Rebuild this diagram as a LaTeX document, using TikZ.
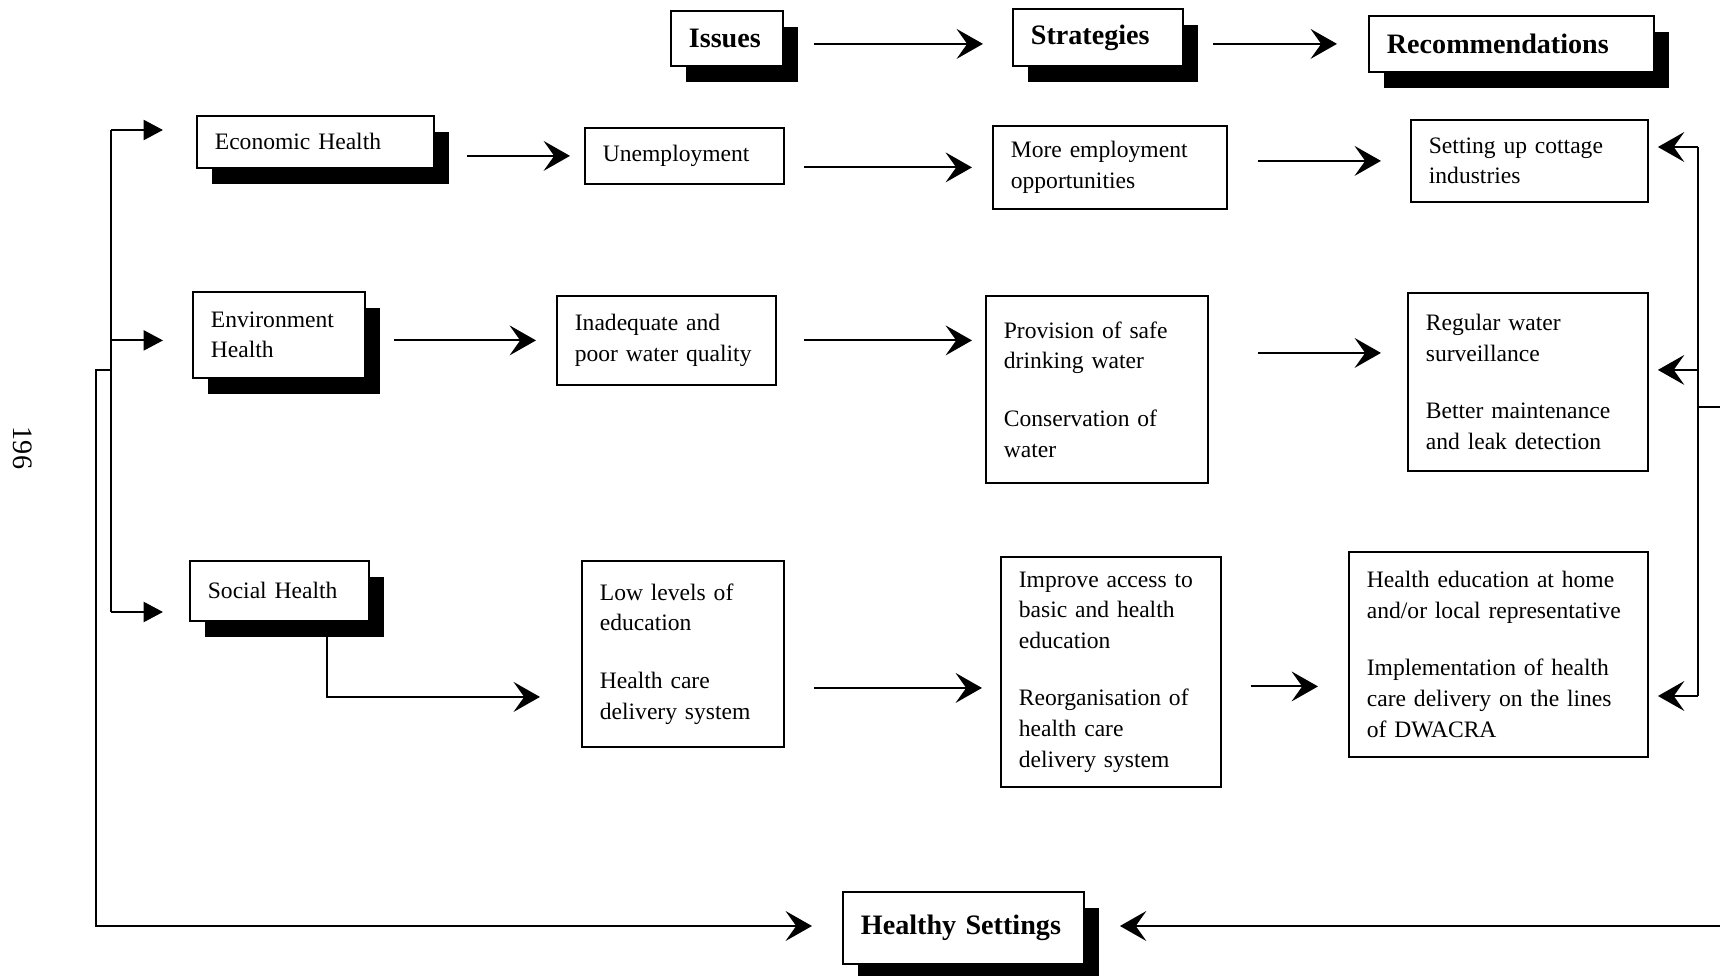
\documentclass[tikz,border=0pt]{standalone}
\usepackage{fontspec}
\setmainfont{Liberation Serif}
\usepackage{tikz}
\usetikzlibrary{arrows.meta,positioning,calc,shadows}
\tikzset{cbox/.style={draw, line width=0.5pt, fill=white, anchor=north west, align=left, inner xsep=0.18cm, inner ysep=0pt, font=\fontsize{6.7}{8.7}\selectfont},
         sbox/.style={cbox, drop shadow={shadow xshift=0.15cm, shadow yshift=-0.16cm, fill=black, opacity=1}},
         hbox/.style={sbox, font=\fontsize{8}{9.6}\selectfont\bfseries},
         arr/.style={-{Stealth[length=7.5pt, width=8.5pt, inset=3pt]}, line width=0.6pt},
         tri/.style={-{Triangle[length=5.5pt, width=5.7pt]}, line width=0.6pt},
         ln/.style={line width=0.6pt}}

\begin{document}
\begin{tikzpicture}[x=0.01cm, y=-0.01cm]
\useasboundingbox (0,0) rectangle (1720,976);
% headings
\node[hbox, text width=0.76cm, minimum height=0.55cm] (issues) at (670,10) {Issues};
\node[hbox, text width=1.34cm, minimum height=0.57cm] (strat) at (1012,8) {Strategies};
\node[hbox, text width=2.49cm, minimum height=0.56cm] (recom) at (1368,15) {Recommendations};
\draw[arr, shorten <=0.3cm, shorten >=0.29cm] (issues.east |- recom.west) -- (strat.west |- recom.west);
\draw[arr, shorten <=0.29cm, shorten >=0.31cm] (strat.east |- recom.west) -- (recom.west);
% economic row
\node[sbox, text width=2.01cm, minimum height=0.52cm] (econ) at (196,115) {Economic Health};
\node[cbox, text width=1.63cm, minimum height=0.56cm] (unemp) at (584,127) {Unemployment};
\node[cbox, text width=1.98cm, minimum height=0.83cm] (more) at (992,125) {More employment\\opportunities};
\node[cbox, text width=2.01cm, minimum height=0.82cm] (cottage) at (1410,119) {Setting up cottage\\industries};
\draw[arr, shorten <=0.32cm, shorten >=0.14cm] (econ.east |- unemp.west) -- (unemp.west);
\draw[arr, shorten <=0.19cm, shorten >=0.2cm] (unemp.east |- more.west) -- (more.west);
\draw[arr, shorten <=0.3cm, shorten >=0.29cm] (more.east |- cottage.west) -- (cottage.west);
% environment row
\node[sbox, text width=1.36cm, minimum height=0.86cm] (env) at (192,291) {Environment\\Health};
\node[cbox, text width=1.83cm, minimum height=0.89cm] (inadeq) at (556,295) {Inadequate and\\poor water quality};
\node[cbox, text width=1.86cm, minimum height=1.87cm] (prov) at (985,295) {Provision of safe\\drinking water\\[0.27cm]Conservation of\\water};
\node[cbox, text width=2.04cm, minimum height=1.78cm] (reg) at (1407,292) {Regular water\\surveillance\\[0.27cm]Better maintenance\\and leak detection};
\draw[arr, shorten <=0.28cm, shorten >=0.2cm] (env.east |- inadeq.west) -- (inadeq.west);
\draw[arr, shorten <=0.27cm, shorten >=0.13cm] (inadeq.east) -- (inadeq.east -| prov.west);
\draw[arr, shorten <=0.49cm, shorten >=0.26cm] ($(prov.east |- reg.west)+(0,-29)$) -- ($(reg.west)+(0,-29)$);
% social row
\node[sbox, text width=1.43cm, minimum height=0.6cm] (social) at (189,560) {Social Health};
\node[cbox, text width=1.66cm, minimum height=1.86cm] (low) at (581,560) {Low levels of\\education\\[0.27cm]Health care\\delivery system};
\node[cbox, text width=1.84cm, minimum height=2.3cm] (improve) at (1000,556) {Improve access to\\basic and health\\education\\[0.27cm]Reorganisation of\\health care\\delivery system};
\node[cbox, text width=2.63cm, minimum height=2.05cm] (healthed) at (1348,551) {Health education at home\\and/or local representative\\[0.27cm]Implementation of health\\care delivery on the lines\\of DWACRA};
\draw[arr, shorten >=0.41cm] ($(social.south)+(47.5,0)$) |- ($(low.west)+(0,43)$);
\draw[arr, shorten <=0.29cm, shorten >=0.18cm] ($(low.east |- improve.west)+(0,16)$) -- ($(improve.west)+(0,16)$);
\draw[arr, shorten <=0.29cm, shorten >=0.3cm] ($(improve.east |- healthed.west)+(0,32)$) -- ($(healthed.west)+(0,32)$);
% healthy settings
\node[hbox, text width=2.05cm, minimum height=0.72cm] (healthy) at (842,891) {Healthy Settings};
% left feedback
\coordinate (ltop) at (111,130); \coordinate (lbot) at (111,612); \coordinate (ljoin) at (111,370); \coordinate (lout) at (96,926);
\draw[ln] (ltop) -- (lbot);
\draw[tri, shorten >=0.33cm] (ltop) -- (econ.west |- ltop);
\draw[tri, shorten >=0.29cm] (ltop |- inadeq.west) -- (env.west |- inadeq.west);
\draw[tri, shorten >=0.26cm] (lbot) -- (social.west |- lbot);
\draw[arr, shorten >=0.3cm] (ljoin) -| (lout) -- (lout -| healthy.west);
% right feedback
\coordinate (rtop) at (1698,147); \coordinate (rbot) at (1698,696); \coordinate (rout) at (1720,407); \coordinate (rin) at (1720,926);
\draw[ln] (rtop) -- (rbot);
\draw[arr, shorten >=0.09cm] (rtop) -- (cottage.east |- rtop);
\draw[arr, shorten >=0.09cm] ($(rtop |- reg.east)+(0,-12)$) -- ($(reg.east)+(0,-12)$);
\draw[arr, shorten >=0.09cm] (rbot) -- (healthed.east |- rbot);
\draw[ln] (rout -| rtop) -- (rout);
\draw[arr, shorten >=0.35cm] (rin) -- (rin -| healthy.east);
% page number
\node[rotate=-90, font=\fontsize{8}{9.6}\selectfont] (pg) at (23,448) {196};
\end{tikzpicture}
\end{document}
